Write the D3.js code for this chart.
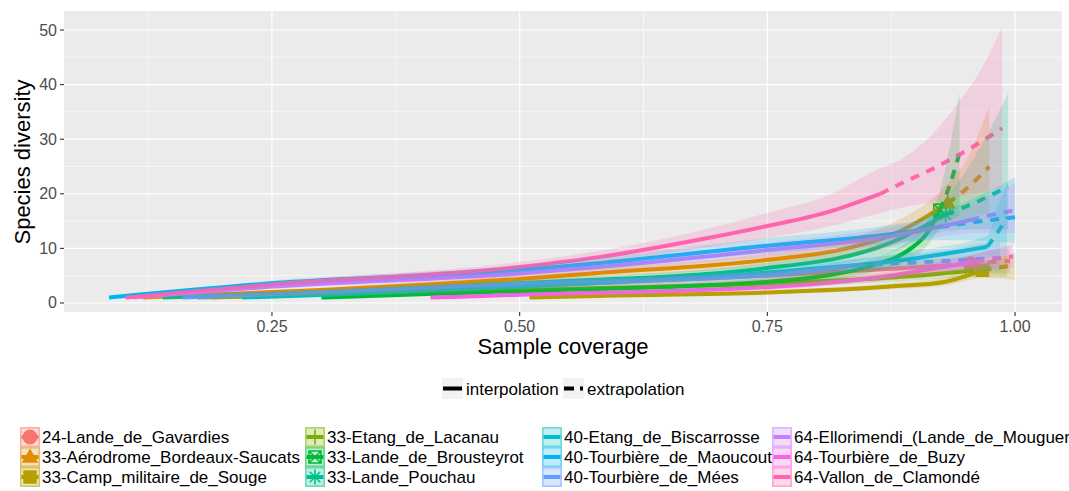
<!DOCTYPE html>
<html><head><meta charset="utf-8">
<script src="https://cdn.jsdelivr.net/npm/d3@7"></script>
<style>body{margin:0;background:#fff}svg{display:block;font-family:"Liberation Sans",Arial,sans-serif}</style>
</head><body><svg id="chart" width="1069" height="491"></svg>
<script>
// ---------- data ----------
const siteNames = ["24-Lande_de_Gavardies","33-Aérodrome_Bordeaux-Saucats","33-Camp_militaire_de_Souge",
  "33-Etang_de_Lacanau","33-Lande_de_Brousteyrot","33-Lande_Pouchau",
  "40-Etang_de_Biscarrosse","40-Tourbière_de_Maoucout","40-Tourbière_de_Mées",
  "64-Ellorimendi_(Lande_de_Mouguerre)","64-Tourbière_de_Buzy","64-Vallon_de_Clamondé"];
const palette = ["#F8766D","#DE8C00","#B79F00","#7CAE00","#00BA38","#00C08B","#00BFC4","#00B4F0","#619CFF","#C77CFF","#F564E3","#FF64B0"];
const shapes = ["circle","triangle","square","plus","boxcross","asterisk",null,null,null,null,null,null];
// rows: [sample coverage, diversity, lower CI, upper CI]
const gavardies = [[0.19,1,1,1],[0.35,2.0,1.6,2.4],[0.5,3.0,2.4,3.6],[0.75,5.0,4.0,6.0],[0.88,6.3,5.0,7.6],[0.955,7.2,5.6,8.8],[0.975,7.45,5.5,9.6],[0.995,7.7,5.4,10.4]];
const aerodrome = [[0.12,1,1,1],[0.3,2.4,2.0,2.8],[0.5,4.4,3.7,5.1],[0.58,5.5,4.6,6.4],[0.75,7.9,6.7,9.1],[0.83,10.0,8.4,11.6],[0.88,12.8,10.6,15.0],[0.932,18.3,14.8,21.8],[0.95,20.8,15.5,26],[0.962,22.8,16,30.5],[0.974,25.0,16.5,36]];
const campSouge = [[0.51,1,1,1],[0.58,1.3,1.1,1.5],[0.75,1.9,1.6,2.3],[0.874,3.0,2.5,3.6],[0.93,3.9,3.2,4.7],[0.967,6.0,4.6,7.4],[0.985,6.5,4.5,8.3],[1.0,7.0,4.2,9.2]];
const lacanau = [[0.175,1,1,1],[0.3,1.6,1.3,1.9],[0.5,2.4,2.0,2.8],[0.75,3.6,3.0,4.2],[0.88,4.7,3.9,5.5],[0.95,5.8,4.7,6.9],[0.972,6.3,4.8,7.8],[0.992,6.7,4.8,8.8]];
const brousteyrot = [[0.30,1,1,1],[0.4,1.6,1.3,1.9],[0.5,2.2,1.8,2.6],[0.75,3.9,3.2,4.6],[0.864,7.3,6.0,8.6],[0.895,10.0,8.2,11.8],[0.912,13.0,10.6,15.4],[0.924,17.0,13.6,20.4],[0.934,21.5,15.0,28.5],[0.944,27.5,16.0,38.6]];
const pouchau = [[0.14,1,1,1],[0.3,2.0,1.7,2.3],[0.5,3.6,3.0,4.2],[0.75,6.4,5.4,7.4],[0.874,11.0,9.2,12.8],[0.93,16.2,13.2,19.2],[0.96,18.4,13.5,27],[0.993,21.3,13.5,38.4]];
const biscarrosse = [[0.22,1,1,1],[0.35,1.8,1.5,2.1],[0.5,3.0,2.5,3.5],[0.75,5.6,4.7,6.5],[0.9,8.2,6.8,9.6],[0.972,10.3,8.3,12.3],[0.982,12.8,8.6,17.5],[0.992,15.7,8.8,22.0]];
const maoucout = [[0.0855,1,1,1],[0.25,3.6,3.1,4.1],[0.5,6.0,5.2,6.8],[0.58,7.3,6.3,8.3],[0.75,10.5,9.1,11.9],[0.874,12.6,10.9,14.3],[0.907,13.4,11.5,15.4],[0.95,14.6,11.5,18.5],[1.0,15.7,11.0,23.0]];
const mees = [[0.16,1,1,1],[0.25,1.6,1.35,1.85],[0.5,3.5,2.9,4.1],[0.75,5.1,4.3,5.9],[0.84,6.9,5.8,8.0],[0.92,7.6,6.0,9.5],[0.985,8.3,5.9,11.5]];
const ellorimendi = [[0.11,1,1,1],[0.25,3.0,2.6,3.4],[0.5,5.4,4.7,6.1],[0.58,6.6,5.7,7.5],[0.75,9.7,8.4,11.0],[0.874,12.2,10.5,13.9],[0.955,15.2,12.8,17.6],[0.978,16.2,12.9,20.0],[1.0,17.0,12.8,22.0]];
const buzy = [[0.41,1,1,1],[0.5,1.5,1.3,1.7],[0.75,2.9,2.4,3.4],[0.874,5.0,4.2,5.8],[0.93,6.7,5.6,7.8],[0.96,7.6,6.3,8.9],[0.98,8.1,6.3,9.9],[0.998,8.5,6.3,10.8]];
const clamonde = [[0.102,1,1,1],[0.25,3.4,3.0,3.8],[0.5,6.6,5.8,7.5],[0.58,8.4,7.3,9.5],[0.69,11.9,10.2,13.6],[0.75,14.1,11.9,16.5],[0.81,16.6,13.9,19.6],[0.864,20.0,16.5,24.7],[0.884,21.8,17.4,26.2],[0.917,24.6,18.5,31.0],[0.944,27.2,19.5,37.0],[0.96,28.9,20,41],[0.987,32.0,21,50.5]];
const siteData = [gavardies,aerodrome,campSouge,lacanau,brousteyrot,pouchau,biscarrosse,maoucout,mees,ellorimendi,buzy,clamonde];
// index of the observed (reference) sample in each series: interpolation up to it, extrapolation after
const observedIndex = [5,7,5,5,7,5,5,6,4,6,5,7];
const xTicks = [0.25,0.50,0.75,1.00];
const xMinor = [0.125,0.375,0.625,0.875];
const yTicks = [0,10,20,30,40,50];
const yMinor = [5,15,25,35,45];
const methodLabels = ["interpolation","extrapolation"];

// ---------- layout ----------
const svg = d3.select("#chart");
const P = {l:64, r:1062, t:11, b:312};
const x = d3.scaleLinear().domain([0.0401,1.0474]).range([P.l,P.r]);
const y = d3.scaleLinear().domain([-1.65,53.48]).range([P.b,P.t]);

svg.append("rect").attr("x",P.l).attr("y",P.t).attr("width",P.r-P.l).attr("height",P.b-P.t).attr("fill","#EBEBEB");
const grid = svg.append("g");
grid.selectAll(".ymin").data(yMinor).join("line").attr("x1",P.l).attr("x2",P.r).attr("y1",d=>y(d)).attr("y2",d=>y(d)).attr("stroke","#fff").attr("stroke-width",0.6);
grid.selectAll(".xmin").data(xMinor).join("line").attr("y1",P.t).attr("y2",P.b).attr("x1",d=>x(d)).attr("x2",d=>x(d)).attr("stroke","#fff").attr("stroke-width",0.6);
grid.selectAll(".ymaj").data(yTicks).join("line").attr("x1",P.l).attr("x2",P.r).attr("y1",d=>y(d)).attr("y2",d=>y(d)).attr("stroke","#fff").attr("stroke-width",1.2);
grid.selectAll(".xmaj").data(xTicks).join("line").attr("y1",P.t).attr("y2",P.b).attr("x1",d=>x(d)).attr("x2",d=>x(d)).attr("stroke","#fff").attr("stroke-width",1.2);

svg.append("clipPath").attr("id","clip").append("rect").attr("x",P.l).attr("y",P.t).attr("width",P.r-P.l).attr("height",P.b-P.t);
const plot = svg.append("g").attr("clip-path","url(#clip)");

function shapePath(sel, shape, color, cx, cy, s){
  const g = sel.append("g").attr("transform",`translate(${cx},${cy})`);
  const h = s/2;
  if(shape==="circle") g.append("circle").attr("r",h).attr("fill",color);
  else if(shape==="triangle") g.append("path").attr("d",`M0,${-h*1.15}L${h*1.1},${h*0.75}L${-h*1.1},${h*0.75}Z`).attr("fill",color);
  else if(shape==="square") g.append("rect").attr("x",-h*0.9).attr("y",-h*0.9).attr("width",h*1.8).attr("height",h*1.8).attr("fill",color);
  else if(shape==="plus") g.append("path").attr("d",`M${-h},0H${h}M0,${-h}V${h}`).attr("stroke",color).attr("stroke-width",1.6).attr("fill","none");
  else if(shape==="boxcross") g.append("path").attr("d",`M${-h*0.8},${-h*0.8}H${h*0.8}V${h*0.8}H${-h*0.8}ZM${-h*0.8},${-h*0.8}L${h*0.8},${h*0.8}M${h*0.8},${-h*0.8}L${-h*0.8},${h*0.8}`).attr("stroke",color).attr("stroke-width",1.6).attr("fill","none");
  else if(shape==="asterisk") g.append("path").attr("d",`M${-h},0H${h}M0,${-h}V${h}M${-h*0.7},${-h*0.7}L${h*0.7},${h*0.7}M${h*0.7},${-h*0.7}L${-h*0.7},${h*0.7}`).attr("stroke",color).attr("stroke-width",1.6).attr("fill","none");
}

const line = d3.line().x(d=>x(d[0])).y(d=>y(d[1])).curve(d3.curveMonotoneX);
const area = d3.area().x(d=>x(d[0])).y0(d=>y(d[2])).y1(d=>y(d[3])).curve(d3.curveMonotoneX);

// points
siteData.forEach((s,i)=>{
  if(shapes[i]){ const o = s[observedIndex[i]]; shapePath(plot, shapes[i], palette[i], x(o[0]), y(o[1]), 15); }
});
// lines
siteData.forEach((s,i)=>{
  const k = observedIndex[i];
  plot.append("path").attr("d",line(s.slice(0,k+1))).attr("fill","none").attr("stroke",palette[i]).attr("stroke-width",4);
  plot.append("path").attr("d",line(s.slice(k))).attr("fill","none").attr("stroke",palette[i]).attr("stroke-width",4).attr("stroke-dasharray","9,8");
});
// ribbons
siteData.forEach((s,i)=>{
  plot.append("path").attr("d",area(s)).attr("fill",palette[i]).attr("fill-opacity",0.2);
});

// axes
const ax = svg.append("g");
ax.selectAll(".yt").data(yTicks).join("line").attr("x1",P.l-4).attr("x2",P.l).attr("y1",d=>y(d)).attr("y2",d=>y(d)).attr("stroke","#333").attr("stroke-width",1.1);
ax.selectAll(".yl").data(yTicks).join("text").attr("x",P.l-7).attr("y",d=>y(d)+5.5).attr("text-anchor","end").attr("font-size",16).attr("fill","#4D4D4D").text(d=>d);
ax.selectAll(".xt").data(xTicks).join("line").attr("y1",P.b).attr("y2",P.b+4).attr("x1",d=>x(d)).attr("x2",d=>x(d)).attr("stroke","#333").attr("stroke-width",1.1);
ax.selectAll(".xl").data(xTicks).join("text").attr("x",d=>x(d)).attr("y",P.b+20).attr("text-anchor","middle").attr("font-size",16).attr("fill","#4D4D4D").text(d=>d.toFixed(2));
svg.append("text").attr("x",(P.l+P.r)/2).attr("y",354).attr("text-anchor","middle").attr("font-size",22).attr("fill","#000").text("Sample coverage");
svg.append("text").attr("transform","translate(30,162) rotate(-90)").attr("text-anchor","middle").attr("font-size",22).attr("fill","#000").text("Species diversity");

// linetype legend
const lt = svg.append("g");
[[442,methodLabels[0],null],[563,methodLabels[1],"10,6"]].forEach(([kx,lab,dash])=>{
  lt.append("rect").attr("x",kx).attr("y",378).attr("width",21).attr("height",21).attr("fill","#F2F2F2");
  const l = lt.append("line").attr("x1",kx+1).attr("x2",kx+20).attr("y1",388.5).attr("y2",388.5).attr("stroke","#000").attr("stroke-width",4);
  if(dash) l.attr("stroke-dasharray",dash);
  lt.append("text").attr("x",kx+24).attr("y",394.5).attr("font-size",17).attr("fill","#000").text(lab);
});

// site legend
const colX = [20,305,542,772];
const rowY = [427,447,467];
const lg = svg.append("g");
siteNames.forEach((n,i)=>{
  const c = Math.floor(i/3), r = i%3;
  const kx = colX[c], ky = rowY[r];
  const g = lg.append("g");
  g.append("rect").attr("x",kx+0.75).attr("y",ky+0.75).attr("width",18.5).attr("height",18.5).attr("fill","#fff");
  g.append("rect").attr("x",kx+0.75).attr("y",ky+0.75).attr("width",18.5).attr("height",18.5).attr("fill",palette[i]).attr("fill-opacity",0.25).attr("stroke",palette[i]).attr("stroke-opacity",0.55).attr("stroke-width",1.5);
  g.append("line").attr("x1",kx+1.5).attr("x2",kx+18.5).attr("y1",ky+10).attr("y2",ky+10).attr("stroke",palette[i]).attr("stroke-width",4);
  if(shapes[i]) shapePath(g, shapes[i], palette[i], kx+10, ky+10, 15);
  lg.append("text").attr("x",kx+22).attr("y",ky+16).attr("font-size",17).attr("fill","#000").text(n);
});
</script></body></html>
